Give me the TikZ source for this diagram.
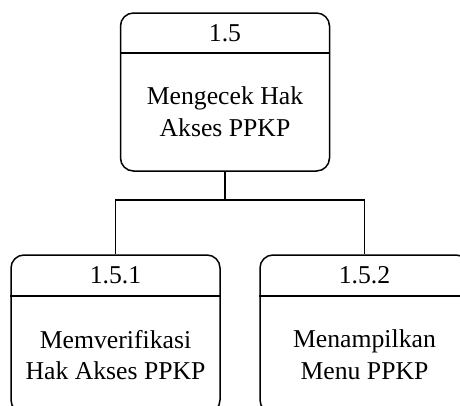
\documentclass[tikz,border=0pt]{standalone}
\usepackage{fontspec}
\setmainfont{Liberation Serif}
\begin{document}
\begin{tikzpicture}[x=1pt,y=-1pt,
  proc/.style={draw,line width=1.5pt,rounded corners=13pt,minimum width=209pt,minimum height=158pt,inner sep=0pt},
  label/.style={font=\fontsize{25.7}{31.7}\selectfont,align=center,inner sep=0pt},
  link/.style={line width=1.5pt}]
\useasboundingbox (0,0) rectangle (460,405);
% parent process
\node[proc] (p) at (225,92) {};
\draw[line width=1.5pt] (p.west |- 0,53) -- (p.east |- 0,53);
\node[label] (pid) at (225,33) {1.5};
\node[label] (pname) at (225,112) {Mengecek Hak\\Akses PPKP};
% child processes
\node[proc] (a) at (115.5,334) {};
\draw[line width=1.5pt] (a.west |- 0,296) -- (a.east |- 0,296);
\node[label] (aid) at (115.5,275.5) {1.5.1};
\node[label] (aname) at (115.5,355) {Memverifikasi\\Hak Akses PPKP};
\node[proc] (b) at (364.5,334) {};
\draw[line width=1.5pt] (b.west |- 0,296) -- (b.east |- 0,296);
\node[label] (bid) at (364.5,275.5) {1.5.2};
\node[label] (bname) at (364.5,355) {Menampilkan\\Menu PPKP};
% decomposition connectors
\coordinate (j) at (225,200);
\draw[link] (p.south) -- (j);
\draw[link] (a.north) |- (j) -| (b.north);
\end{tikzpicture}
\end{document}
